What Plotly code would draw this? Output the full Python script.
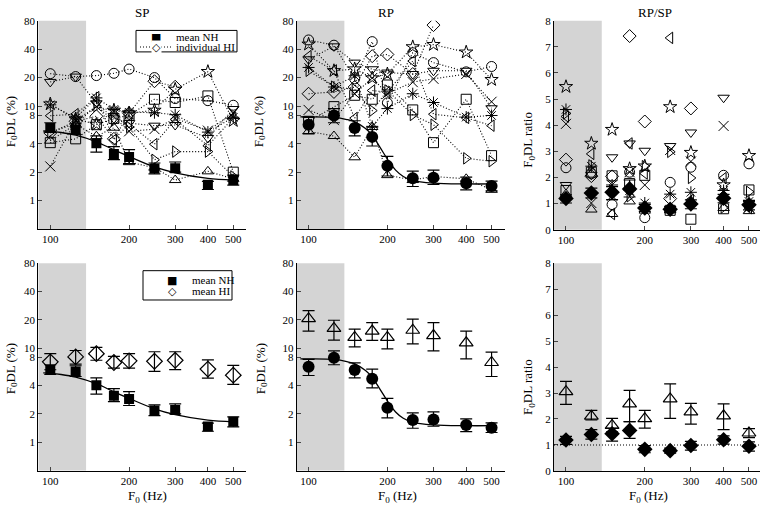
import math
import plotly.graph_objects as go

# ---------------- data ----------------
F = [100, 125, 150, 175, 200, 250, 300, 400, 500]
x_ticks = [100, 200, 300, 400, 500]
y_log_ticks = [1, 2, 4, 8, 10, 20, 40, 80]
y_ratio_ticks = [0, 1, 2, 3, 4, 5, 6, 7, 8]

# mean NH, SP (value, upper, lower)
sp_nh = [5.86, 5.64, 4.03, 3.12, 2.89, 2.18, 2.2, 1.47, 1.65]
sp_nh_up = [6.66, 6.5, 4.84, 3.72, 3.46, 2.5, 2.56, 1.6, 1.86]
sp_nh_lo = [5.25, 5.0, 3.25, 2.71, 2.46, 1.92, 2.0, 1.31, 1.46]
# mean NH, RP
rp_nh = [6.35, 7.93, 5.86, 4.72, 2.33, 1.72, 1.75, 1.53, 1.43]
rp_nh_up = [7.6, 9.37, 6.99, 6.0, 2.93, 2.05, 2.1, 1.77, 1.61]
rp_nh_lo = [5.12, 6.66, 4.84, 3.78, 1.82, 1.41, 1.48, 1.3, 1.27]
# mean HI, SP
sp_hi = [7.16, 8.07, 8.73, 7.04, 7.33, 7.26, 7.44, 6.0, 5.16]
sp_hi_up = [8.73, 9.44, 10.2, 8.18, 8.73, 9.16, 9.16, 7.51, 6.55]
sp_hi_lo = [5.9, 6.76, 7.44, 6.14, 6.14, 5.68, 5.91, 4.81, 4.13]
# mean HI, RP
rp_hi = [20.6, 16.2, 13.0, 15.2, 13.0, 15.5, 13.6, 11.4, 7.04]
rp_hi_up = [25.1, 19.8, 15.9, 18.7, 15.9, 20.3, 18.7, 15.2, 9.09]
rp_hi_lo = [15.2, 12.2, 10.3, 12.1, 9.83, 11.1, 9.37, 7.69, 5.0]
# ratio means
ratio_hi = [3.05, 2.11, 1.75, 2.58, 2.01, 2.77, 2.27, 2.12, 1.46]
ratio_hi_up = [3.45, 2.33, 2.02, 3.1, 2.33, 3.35, 2.6, 2.58, 1.63]
ratio_hi_lo = [2.56, 1.96, 1.5, 1.9, 1.65, 2.02, 1.8, 1.59, 1.28]
ratio_nh = [1.19, 1.4, 1.43, 1.56, 0.83, 0.78, 0.98, 1.2, 0.95]
ratio_nh_up = [1.33, 1.59, 1.65, 1.9, 0.97, 0.88, 1.14, 1.35, 1.12]
ratio_nh_lo = [1.02, 1.22, 1.15, 1.25, 0.7, 0.68, 0.8, 1.03, 0.76]

# fitted curves
sp_fit_f = [94, 100, 110, 125, 150, 175, 200, 250, 300, 400, 500]
sp_fit = [5.45, 5.4, 5.25, 4.92, 4.19, 3.44, 2.93, 2.27, 1.97, 1.72, 1.65]
rp_fit_f = [93, 100, 125, 140, 150, 165, 175, 187, 200, 215, 230, 250, 300, 400, 500]
rp_fit = [7.7, 7.7, 7.6, 7.2, 6.8, 5.8, 4.9, 3.7, 2.75, 2.1, 1.8, 1.63, 1.53, 1.5, 1.5]

# individual HI listeners
hi_symbols = ["circle-open", "triangle-down-open", "star-open", "asterisk-open",
              "x-thin-open", "diamond-open", "square-open", "triangle-left-open",
              "triangle-right-open", "triangle-up-open"]
hi_sp = [
    [22, 20.5, 21, 22.2, 24.6, 20, 12, 11.4, 10.2],
    [18, 20.5, 10.7, 7.4, 6.6, 6.2, 6.3, 4.6, 9.3],
    [10.5, 7.3, 6.4, 9.0, 8.4, 9.0, 15, 23.1, 7.0],
    [10.3, 7.5, 12.2, 9.2, 8.6, 8.5, 8.1, 5.3, 7.6],
    [2.3, 7.0, 9.9, 8.8, 5.4, 5.7, 7.4, 5.5, 8.5],
    [5.2, 6.9, 7.8, 4.5, 8.4, 18.3, 16, None, None],
    [4.1, 4.5, 6.35, 7.4, 8.0, 11.8, 10.9, 12.8, 2.0],
    [7.9, 8.2, 12.4, 4.4, 6.5, 3.95, 7.2, 3.8, 7.5],
    [5.3, 6.5, 10.0, 7.0, 6.0, 2.7, 3.3, 3.3, 1.8],
    [4.3, 6.4, 4.8, 5.9, 2.55, 2.23, 1.65, 2.04, 1.7],
]
hi_rp = [
    [50, 44, 19.4, 48, 10.8, 36.6, 28.8, 23, 26.2],
    [31.2, 42.8, 28.8, 24.5, 22.6, 21.8, 23.6, 23.6, 9.47],
    [45, 23.6, 24.6, 19.8, 21.8, 42.2, 44.6, 37.1, 19.0],
    [25.6, 15.9, 20.9, 6.1, 9.4, 13.5, 10.9, 7.64, 7.95],
    [9.1, 7.1, 13.5, 19.8, 13.5, 17.9, 19.4, 21.8, 11.1],
    [13.5, 14.1, 15.9, 33.7, 35.1, 21.8, 71.8, None, None],
    [6.9, 9.86, 13.0, 11.8, 16.7, 9.1, 4.1, 11.8, 2.99],
    [33.7, 23.8, 7.46, 14.6, 14.0, 29.9, 8.2, 7.5, 6.2],
    [23.6, 16.0, 15.0, 8.95, 14.6, 8.05, 6.35, 2.8, 2.61],
    [5.4, 4.82, 2.87, 6.0, 1.86, 1.65, 1.8, 1.7, 1.3],
]
hi_ratio = [
    [2.37, 2.14, 0.96, 2.2, 0.46, 1.81, 2.39, 2.08, 2.52],
    [1.71, 2.1, 2.77, 3.3, 3.02, 3.2, 3.72, 5.05, 0.89],
    [5.47, 3.3, 3.83, 2.33, 2.43, 4.7, 2.95, 1.71, 2.83],
    [4.6, 2.43, 1.71, 1.5, 1.02, 1.36, 1.43, 1.5, 1.08],
    [4.05, 1.02, 1.3, 2.2, 1.71, 3.05, 2.61, 3.97, 0.85],
    [2.68, 2.05, 2.04, 7.41, 4.14, 1.19, 4.64, None, None],
    [1.5, 2.2, 2.06, 1.77, 2.08, 0.74, 0.4, 0.8, 1.52],
    [4.33, 2.9, 0.6, 3.3, 2.15, 7.34, 1.14, 1.97, 0.83],
    [4.45, 2.46, 1.5, 1.28, 2.43, 2.98, 1.98, 0.85, 1.45],
    [1.36, 0.77, 0.6, 1.08, 0.73, 0.74, 1.1, 0.83, 0.71],
]
shade_f = [90, 137]

# ---------------- layout helpers ----------------
W, H = 760, 515
FONT = "Liberation Serif"
PXDEC = 261.8
XLO = math.log10(90)
DOT = "1px,2px"


def px(xp):
    return xp / W


def py(yp):
    return 1 - yp / H


def err(v, up, lo):
    return dict(type="data", symmetric=False,
                array=[u - m for u, m in zip(up, v)],
                arrayminus=[m - l for m, l in zip(v, lo)],
                color="black", thickness=1.2, width=6)


fig = go.Figure()

P = {1: ("x", "y"), 2: ("x2", "y2"), 3: ("x3", "y3"),
     4: ("x4", "y4"), 5: ("x5", "y5"), 6: ("x6", "y6")}

# individual HI top row
for i, sym in enumerate(hi_symbols):
    for p, data, mode in ((1, hi_sp, "lines+markers"), (2, hi_rp, "lines+markers"),
                          (3, hi_ratio, "markers")):
        xa, ya = P[p]
        fig.add_trace(go.Scatter(
            x=F, y=data[i], xaxis=xa, yaxis=ya, mode=mode,
            line=dict(color="black", width=1.1, dash=DOT),
            marker=dict(symbol=sym, size=10, color="black",
                        line=dict(color="black", width=1)),
            name="individual HI", showlegend=False))

# fitted curves
for p in (1, 4):
    xa, ya = P[p]
    fig.add_trace(go.Scatter(x=sp_fit_f, y=sp_fit, xaxis=xa, yaxis=ya, mode="lines",
                             line=dict(color="black", width=1.3, shape="spline"),
                             showlegend=False))
for p in (2, 5):
    xa, ya = P[p]
    fig.add_trace(go.Scatter(x=rp_fit_f, y=rp_fit, xaxis=xa, yaxis=ya, mode="lines",
                             line=dict(color="black", width=1.3, shape="spline"),
                             showlegend=False))

# HI means bottom
fig.add_trace(go.Scatter(x=F, y=sp_hi, xaxis="x4", yaxis="y4", mode="markers",
                         error_y=err(sp_hi, sp_hi_up, sp_hi_lo),
                         marker=dict(symbol="diamond-open", size=12, color="black",
                                     line=dict(color="black", width=1.2)),
                         name="mean HI", showlegend=False))
fig.add_trace(go.Scatter(x=F, y=rp_hi, xaxis="x5", yaxis="y5", mode="markers",
                         error_y=err(rp_hi, rp_hi_up, rp_hi_lo),
                         marker=dict(symbol="triangle-up-open", size=12, color="black",
                                     line=dict(color="black", width=1.2)),
                         showlegend=False))
fig.add_trace(go.Scatter(x=F, y=ratio_hi, xaxis="x6", yaxis="y6", mode="markers",
                         error_y=err(ratio_hi, ratio_hi_up, ratio_hi_lo),
                         marker=dict(symbol="triangle-up-open", size=12, color="black",
                                     line=dict(color="black", width=1.2)),
                         showlegend=False))

# NH means
for p in (1, 4):
    xa, ya = P[p]
    fig.add_trace(go.Scatter(x=F, y=sp_nh, xaxis=xa, yaxis=ya, mode="markers",
                             error_y=err(sp_nh, sp_nh_up, sp_nh_lo),
                             marker=dict(symbol="square", size=10, color="black"),
                             name="mean NH", showlegend=False))
for p in (2, 5):
    xa, ya = P[p]
    fig.add_trace(go.Scatter(x=F, y=rp_nh, xaxis=xa, yaxis=ya, mode="markers",
                             error_y=err(rp_nh, rp_nh_up, rp_nh_lo),
                             marker=dict(symbol="circle", size=12, color="black"),
                             showlegend=False))
for p in (3, 6):
    xa, ya = P[p]
    fig.add_trace(go.Scatter(x=F, y=ratio_nh, xaxis=xa, yaxis=ya, mode="markers",
                             error_y=err(ratio_nh, ratio_nh_up, ratio_nh_lo),
                             marker=dict(symbol="diamond", size=12, color="black"),
                             showlegend=False))

# axes
col_left = [38.3, 296.6, 554.0]
rows = [(15.0, 228.4, 229.0), (263.3, 475.7, 476.0)]
tickfont = dict(family=FONT, size=11, color="black")
layout = {}
k = 0
for r, (ytop, ybot_log, ybot_lin) in enumerate(rows):
    for c in range(3):
        k += 1
        left = col_left[c]
        right = min(left + 207.9, W)
        xhi = XLO + (right - left) / PXDEC
        xname = "xaxis" if k == 1 else f"xaxis{k}"
        yname = "yaxis" if k == 1 else f"yaxis{k}"
        yanchor = "y" if k == 1 else f"y{k}"
        xanchor = "x" if k == 1 else f"x{k}"
        layout[xname] = dict(type="log", domain=[px(left), px(right)], range=[XLO, xhi],
                             tickvals=x_ticks, ticktext=[str(t) for t in x_ticks],
                             ticks="inside", ticklen=4, showline=True, linecolor="black",
                             linewidth=1, showgrid=False, zeroline=False, anchor=yanchor,
                             tickfont=tickfont, fixedrange=True)
        if c < 2:
            layout[yname] = dict(type="log", domain=[py(ybot_log), py(ytop)],
                                 range=[math.log10(0.5), math.log10(80)],
                                 tickvals=y_log_ticks, ticktext=[str(t) for t in y_log_ticks],
                                 ticks="inside", ticklen=4, showline=True, linecolor="black",
                                 linewidth=1, showgrid=False, zeroline=False, anchor=xanchor,
                                 tickfont=tickfont, fixedrange=True)
        else:
            layout[yname] = dict(type="linear", domain=[py(ybot_lin), py(ytop)],
                                 range=[0, 8], tickvals=y_ratio_ticks,
                                 ticks="inside", ticklen=4, showline=True, linecolor="black",
                                 linewidth=1, showgrid=False, zeroline=False, anchor=xanchor,
                                 tickfont=tickfont, fixedrange=True)

shapes = []
for k in range(1, 7):
    xr = "x" if k == 1 else f"x{k}"
    yr = "y" if k == 1 else f"y{k}"
    shapes.append(dict(type="rect", xref=xr, yref=yr + " domain", x0=shade_f[0], x1=shade_f[1],
                       y0=0, y1=1, fillcolor="#d4d4d4", line=dict(width=0), layer="below"))
shapes.append(dict(type="line", xref="x6 domain", yref="y6", x0=0, x1=1, y0=1, y1=1,
                   line=dict(color="black", width=1.1, dash=DOT)))

ann = []
tf = dict(family=FONT, size=13, color="black")
for txt, xp in (("SP", 142), ("RP", 386), ("RP/SP", 655)):
    ann.append(dict(text=txt, x=px(xp), y=py(7), xref="paper", yref="paper",
                    showarrow=False, font=tf, xanchor="center", yanchor="middle"))
for txt, xp, yp in (("F<sub>0</sub>DL (%)", 11, 119), ("F<sub>0</sub>DL (%)", 259, 119),
                    ("F<sub>0</sub>DL ratio", 529, 137), ("F<sub>0</sub>DL (%)", 11, 372),
                    ("F<sub>0</sub>DL (%)", 261, 372), ("F<sub>0</sub>DL ratio", 529, 390)):
    ann.append(dict(text=txt, x=px(xp), y=py(yp), xref="paper", yref="paper", textangle=-90,
                    showarrow=False, font=tf, xanchor="center", yanchor="middle"))
for xp in (147, 397, 648):
    ann.append(dict(text="F<sub>0</sub> (Hz)", x=px(xp), y=py(502), xref="paper", yref="paper",
                    showarrow=False, font=tf, xanchor="center", yanchor="middle"))

# hand-drawn legends (box, key line, key glyphs, labels)
lf = dict(family=FONT, size=11, color="black")
gf = dict(family="DejaVu Sans", size=11, color="black")
legends = [
    ((136, 25, 237, 47), [("■", 156, 32, "mean NH", 174, False),
                          ("◇", 156, 42, "individual HI", 174, True)]),
    ((143, 271, 232, 301), [("■", 172, 281, "mean NH", 190, False),
                            ("◇", 172, 292, "mean HI", 190, False)]),
]
for (x0, y0, x1, y1), entries in legends:
    shapes.append(dict(type="rect", xref="paper", yref="paper", x0=px(x0), x1=px(x1),
                       y0=py(y1), y1=py(y0), fillcolor="white",
                       line=dict(color="black", width=1), layer="above"))
    for glyph, gx, gy, label, lx, dotted in entries:
        if dotted:
            shapes.append(dict(type="line", xref="paper", yref="paper", x0=px(140), x1=px(171),
                               y0=py(gy), y1=py(gy), layer="above",
                               line=dict(color="black", width=1.1, dash=DOT)))
        ann.append(dict(text=glyph, x=px(gx), y=py(gy), xref="paper", yref="paper",
                        showarrow=False, font=gf, xanchor="center", yanchor="middle",
                        bgcolor="white" if dotted else None, borderpad=0))
        ann.append(dict(text=label, x=px(lx), y=py(gy), xref="paper", yref="paper",
                        showarrow=False, font=lf, xanchor="left", yanchor="middle"))

fig.update_layout(
    width=W, height=H, margin=dict(l=0, r=0, t=0, b=0),
    paper_bgcolor="white", plot_bgcolor="white",
    shapes=shapes, annotations=ann, showlegend=False,
    **layout,
)
fig.write_html("out.html", config={"displayModeBar": False},
               post_script="document.body.style.margin='0';document.body.style.overflow='hidden';")
